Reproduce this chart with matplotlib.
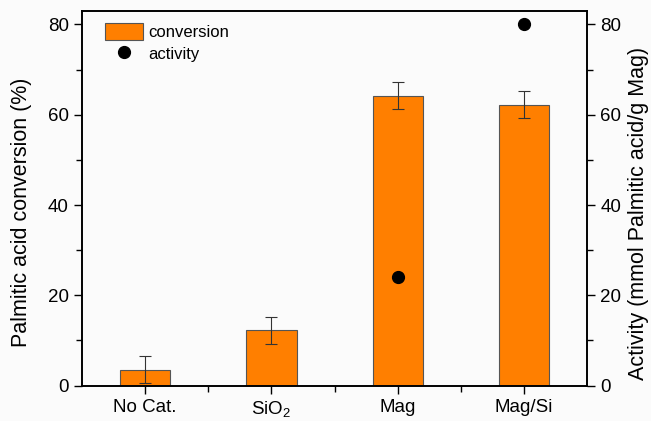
import numpy as np
import matplotlib
matplotlib.use('Agg')
import matplotlib.pyplot as plt
from matplotlib.ticker import MultipleLocator, FixedLocator

plt.rcParams['font.family'] = ['Liberation Sans', 'DejaVu Sans']
plt.rcParams['mathtext.default'] = 'regular'

# data
categories = ['No Cat.', 'SiO$_2$', 'Mag', 'Mag/Si']
conversion = [3.5, 12.3, 64.2, 62.2]
conversion_err = [3.0, 3.0, 3.0, 3.0]
activity_cats = ['Mag', 'Mag/Si']
activity = [24.0, 80.0]

x = np.arange(1, len(categories) + 1)
act_x = [x[categories.index(c)] for c in activity_cats]

fig = plt.figure(figsize=(6.51, 4.21), dpi=100)
fig.patch.set_facecolor('#fbfbfb')
ax = fig.add_axes([0.126, 0.084, 0.776, 0.89])
ax.set_facecolor('#fbfbfb')

ax.bar(x, conversion, width=0.4, color='#ff7f00', edgecolor='#555555',
       linewidth=0.8, label='conversion', zorder=2)
ax.errorbar(x, conversion, yerr=conversion_err, fmt='none', ecolor='#333333',
            elinewidth=0.8, capsize=4, capthick=0.8, zorder=3)

ax2 = ax.twinx()
ax2.plot(act_x, activity, 'o', color='black', markersize=8.5, label='activity', zorder=4)

ax.set_xlim(0.5, 4.5)
ax.set_ylim(0, 83)
ax2.set_ylim(0, 83)

ax.set_xticks(x)
ax.set_xticklabels(categories)
ax.xaxis.set_minor_locator(FixedLocator([1.5, 2.5, 3.5]))

for a in (ax, ax2):
    a.yaxis.set_major_locator(MultipleLocator(20))
    a.yaxis.set_minor_locator(MultipleLocator(10))
    for s in a.spines.values():
        s.set_linewidth(1.2)

ax.tick_params(axis='both', which='major', direction='out', length=6, width=1,
               labelsize=13.5)
ax.tick_params(axis='both', which='minor', direction='out', length=4, width=1)
ax2.tick_params(axis='y', which='major', direction='out', length=6, width=1,
                labelsize=13.5)
ax2.tick_params(axis='y', which='minor', direction='out', length=4, width=1)

ax.set_ylabel('Palmitic acid conversion (%)', fontsize=15.5)
ax.yaxis.set_label_coords(-0.1, 0.4636)
ax2.set_ylabel('Activity (mmol Palmitic acid/g Mag)', fontsize=15.5)
ax2.yaxis.set_label_coords(1.081, 0.4596)

h1, l1 = ax.get_legend_handles_labels()
h2, l2 = ax2.get_legend_handles_labels()
ax2.legend(h1 + h2, l1 + l2, loc='upper left', frameon=False, fontsize=12,
           bbox_to_anchor=(0.016, 1.008), handlelength=2.3, handleheight=1.2,
           handletextpad=0.3, labelspacing=0.3)

fig.savefig('out.png', dpi=100, facecolor=fig.get_facecolor())
